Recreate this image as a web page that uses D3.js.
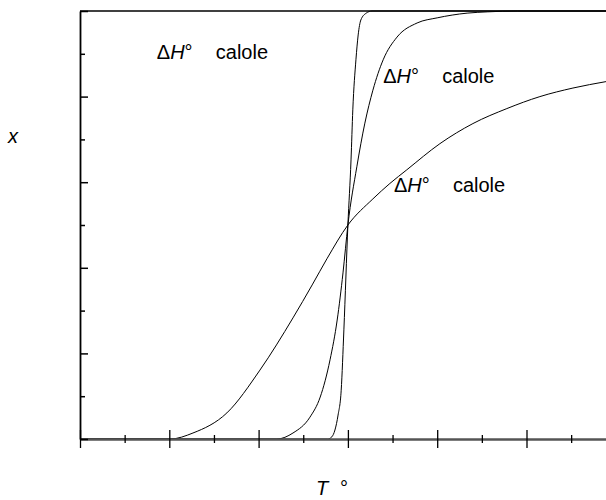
<!DOCTYPE html>
<html>
<head>
<meta charset="utf-8">
<script src="https://cdn.jsdelivr.net/npm/d3@7"></script>
<style>
  html, body { margin: 0; padding: 0; background: #fff; }
  svg { display: block; font-family: "Liberation Sans", Arial, Helvetica, sans-serif; }
</style>
</head>
<body>
<svg id="chart" width="606" height="500"></svg>
<script>
// ---- data ----
// temperature axis in tick units, fraction x
const steepT = [0, 5.55, 5.64, 5.71, 5.78, 5.85, 5.91, 6.00, 6.07, 6.11, 6.18, 6.23, 6.29, 6.41, 6.54, 12];
const steepX = [0, 0, 0.005, 0.021, 0.056, 0.114, 0.255, 0.5, 0.652, 0.769, 0.886, 0.944, 0.979, 0.995, 1.0, 1.0];

const mediumT = [0, 4.41, 4.77, 5.15, 5.38, 5.60, 5.76, 5.89, 6.00, 6.20, 6.38, 6.56, 6.79, 7.10, 7.55, 8.00, 8.67, 9.12, 9.8, 12];
const mediumX = [0, 0, 0.014, 0.051, 0.098, 0.185, 0.278, 0.388, 0.5, 0.636, 0.738, 0.815, 0.886, 0.939, 0.972, 0.984, 0.995, 0.998, 1.0, 1.0];

const broadT = [0, 2.02, 2.53, 3.29, 4.03, 4.77, 5.20, 5.53, 6.00, 6.56, 6.94, 7.32, 8.06, 8.80, 9.56, 10.30, 11.04, 11.78];
const broadX = [0, 0, 0.014, 0.061, 0.161, 0.283, 0.360, 0.421, 0.5, 0.561, 0.597, 0.629, 0.690, 0.737, 0.772, 0.800, 0.820, 0.835];

const xMajorTicks = [0, 2, 4, 6, 8, 10];
const xMinorTicks = [1, 3, 5, 7, 9, 11];
const yMajorTicks = [0, 0.2, 0.4, 0.6, 0.8, 1.0];
const yMinorTicks = [0.1, 0.3, 0.5, 0.7, 0.9];

const labelT = [1.72, 6.79, 7.03];
const labelX = [0.888, 0.832, 0.577];
const labelUnit = "calole";

// ---- drawing ----
const svg = d3.select("#chart");
const x = d3.scaleLinear().domain([0, 12]).range([80, 80 + 12 * 44.65]);
const y = d3.scaleLinear().domain([0, 1]).range([439, 11]);

// curves
const series = [
  { T: steepT, X: steepX },
  { T: mediumT, X: mediumX },
  { T: broadT, X: broadX }
];
const line = d3.line().x(d => x(d[0])).y(d => y(d[1])).curve(d3.curveMonotoneX);
series.forEach(s => {
  const pts = s.T.map((t, i) => [t, s.X[i]]);
  svg.append("path")
    .attr("d", line(pts))
    .attr("fill", "none")
    .attr("stroke", "#000")
    .attr("stroke-width", 1);
});

// top frame line
svg.append("line")
  .attr("x1", x(0)).attr("x2", 606)
  .attr("y1", y(1)).attr("y2", y(1))
  .attr("stroke", "#000").attr("stroke-width", 1.5);

// x axis
const gx = svg.append("g").attr("transform", `translate(0,${y(0)})`);
gx.call(d3.axisBottom(x).tickValues(xMajorTicks).tickSize(9).tickSizeOuter(0).tickFormat(""));
gx.select(".domain").attr("stroke", "#555").attr("stroke-width", 2.5);
gx.selectAll(".tick line").attr("y1", -9).attr("stroke", "#000").attr("stroke-width", 1.3);
const gx2 = svg.append("g").attr("transform", `translate(0,${y(0)})`);
gx2.call(d3.axisBottom(x).tickValues(xMinorTicks).tickSize(4).tickSizeOuter(0).tickFormat(""));
gx2.select(".domain").remove();
gx2.selectAll(".tick line").attr("y1", -4).attr("stroke", "#000").attr("stroke-width", 1.3);

// y axis
const gy = svg.append("g").attr("transform", `translate(${x(0)},0)`);
gy.call(d3.axisLeft(y).tickValues(yMajorTicks).tickSize(8).tickSizeOuter(0).tickFormat(""));
gy.select(".domain").attr("stroke", "#000").attr("stroke-width", 1.8);
gy.selectAll(".tick line").attr("x2", 8).attr("stroke", "#000").attr("stroke-width", 1.5);
const gy2 = svg.append("g").attr("transform", `translate(${x(0)},0)`);
gy2.call(d3.axisLeft(y).tickValues(yMinorTicks).tickSize(4).tickSizeOuter(0).tickFormat(""));
gy2.select(".domain").remove();
gy2.selectAll(".tick line").attr("x2", 5).attr("stroke", "#000").attr("stroke-width", 1.5);

// curve labels
labelT.forEach((t, i) => {
  const tx = svg.append("text")
    .attr("x", x(t)).attr("y", y(labelX[i]))
    .attr("font-size", 20).attr("fill", "#000");
  tx.append("tspan").text("\u0394");
  tx.append("tspan").attr("font-style", "italic").text("H");
  tx.append("tspan").text("\u00B0");
  tx.append("tspan").attr("x", x(t) + 59).text(labelUnit);
});

// axis titles
svg.append("text")
  .attr("x", 8).attr("y", 143)
  .attr("font-size", 20).attr("font-style", "italic").attr("fill", "#000")
  .text("x");

const tt = svg.append("text")
  .attr("x", 316).attr("y", 495)
  .attr("font-size", 20).attr("fill", "#000");
tt.append("tspan").attr("font-style", "italic").text("T");
tt.append("tspan").attr("x", 340).text("\u00B0");
</script>
</body>
</html>
